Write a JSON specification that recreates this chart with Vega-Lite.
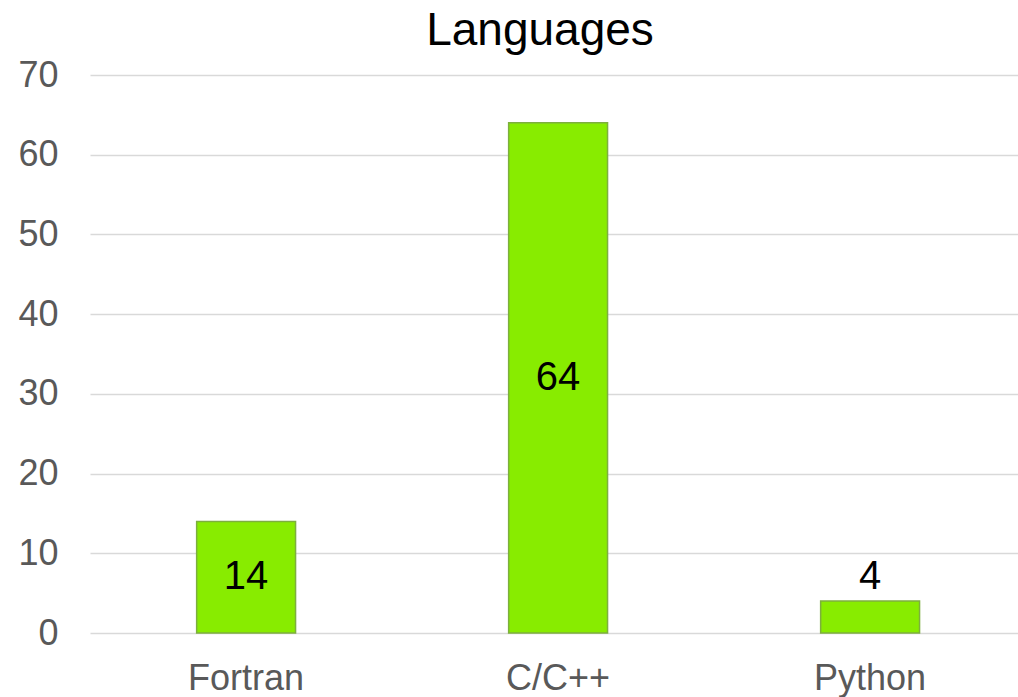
{
  "$schema": "https://vega.github.io/schema/vega-lite/v6.json",
  "autosize": {"type": "none"},
  "padding": {"left": 90, "top": 75, "right": 0, "bottom": 64},
  "width": 928,
  "height": 558,
  "background": "white",
  "title": {
    "text": "Languages",
    "font": "Liberation Sans",
    "fontSize": 46,
    "fontWeight": "normal",
    "color": "#000000",
    "anchor": "middle",
    "dx": -14,
    "offset": 2
  },
  "data": {
    "values": [
      {"language": "Fortran", "value": 14},
      {"language": "C/C++", "value": 64},
      {"language": "Python", "value": 4}
    ]
  },
  "config": {
    "view": {"stroke": null},
    "font": "Liberation Sans"
  },
  "encoding": {
    "x": {
      "field": "language",
      "type": "nominal",
      "sort": null,
      "title": null,
      "scale": {"paddingInner": 0.683, "paddingOuter": 0.3287, "align": 0.52},
      "axis": {
        "domain": false,
        "ticks": false,
        "labelAngle": 0,
        "labelFontSize": 36,
        "labelColor": "#595959",
        "labelFont": "Liberation Sans",
        "labelPadding": 28
      }
    }
  },
  "layer": [
    {
      "mark": {"type": "bar", "color": "#88EC00", "stroke": "#7DAF3E", "strokeWidth": 1.5},
      "encoding": {
        "y": {
          "field": "value",
          "type": "quantitative",
          "title": null,
          "scale": {"domain": [0, 70], "nice": false},
          "axis": {
            "values": [0, 10, 20, 30, 40, 50, 60, 70],
            "domain": false,
            "ticks": false,
            "gridColor": "#D9D9D9",
            "gridWidth": 1.5,
            "labelFontSize": 36,
            "labelColor": "#595959",
            "labelFont": "Liberation Sans",
            "labelPadding": 32
          }
        }
      }
    },
    {
      "transform": [
        {"filter": "datum.value > 10"},
        {"calculate": "datum.value / 2", "as": "mid"}
      ],
      "mark": {"type": "text", "fontSize": 40, "color": "#000000", "baseline": "middle", "font": "Liberation Sans"},
      "encoding": {
        "y": {"field": "mid", "type": "quantitative"},
        "text": {"field": "value", "type": "quantitative"}
      }
    },
    {
      "transform": [{"filter": "datum.value <= 10"}],
      "mark": {"type": "text", "fontSize": 40, "color": "#000000", "baseline": "bottom", "dy": -4, "font": "Liberation Sans"},
      "encoding": {
        "y": {"field": "value", "type": "quantitative"},
        "text": {"field": "value", "type": "quantitative"}
      }
    }
  ]
}
